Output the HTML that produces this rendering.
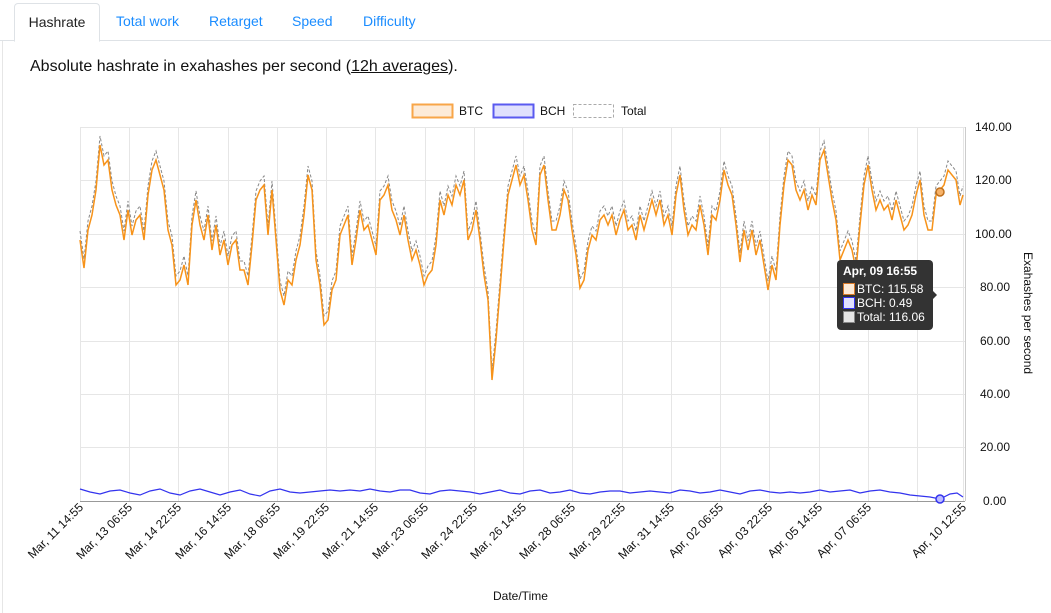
<!DOCTYPE html>
<html><head><style>
body{margin:0;width:1051px;height:613px;background:#fff;font-family:"Liberation Sans",Arial,sans-serif;overflow:hidden;position:relative}
.tabs{position:absolute;left:0;top:0;width:1051px;height:40px;border-bottom:1px solid #dee2e6}
.tab{position:absolute;top:13px;font-size:14px;color:#1a8cff}
.act{position:absolute;left:14px;top:3px;width:84px;height:37px;border:1px solid #dee2e6;border-bottom:1px solid #fff;border-radius:4px 4px 0 0;background:#fff;color:#222;font-size:14px;text-align:center;line-height:36px}
.lb{position:absolute;left:2px;top:41px;width:1px;height:572px;background:#e6e6e6}
h1{position:absolute;left:30px;top:58px;margin:0;font-weight:normal;font-size:16px;color:#111}
</style></head><body>
<div class="tabs"><div class="act">Hashrate</div>
<span class="tab" style="left:116px">Total work</span><span class="tab" style="left:209px">Retarget</span><span class="tab" style="left:292px">Speed</span><span class="tab" style="left:363px">Difficulty</span></div>
<div class="lb"></div>
<h1>Absolute hashrate in exahashes per second (<u>12h averages</u>).</h1>
<svg width="1051" height="613" style="position:absolute;left:0;top:0" font-family="Liberation Sans, Arial, sans-serif">
<g font-size="12" fill="#111">
<rect x="412.5" y="104.5" width="40" height="13" fill="#fdebd8" stroke="#f8a648" stroke-width="2"/><text x="459" y="115">BTC</text>
<rect x="493.5" y="104.5" width="40" height="13" fill="#e0e0fd" stroke="#5a5af0" stroke-width="2"/><text x="540" y="115">BCH</text>
<rect x="573.5" y="104.5" width="40" height="13" fill="#fff" stroke="#aaa" stroke-dasharray="3,2"/><text x="621" y="115">Total</text>
</g>
<g stroke="#e6e6e6" stroke-width="1">
<line x1="80" y1="127.5" x2="965" y2="127.5"/><line x1="80" y1="180.5" x2="965" y2="180.5"/><line x1="80" y1="234.5" x2="965" y2="234.5"/><line x1="80" y1="287.5" x2="965" y2="287.5"/><line x1="80" y1="341.5" x2="965" y2="341.5"/><line x1="80" y1="394.5" x2="965" y2="394.5"/><line x1="80" y1="447.5" x2="965" y2="447.5"/>
<line x1="80.5" y1="127" x2="80.5" y2="501"/><line x1="129.5" y1="127" x2="129.5" y2="501"/><line x1="178.5" y1="127" x2="178.5" y2="501"/><line x1="228.5" y1="127" x2="228.5" y2="501"/><line x1="277.5" y1="127" x2="277.5" y2="501"/><line x1="326.5" y1="127" x2="326.5" y2="501"/><line x1="375.5" y1="127" x2="375.5" y2="501"/><line x1="425.5" y1="127" x2="425.5" y2="501"/><line x1="474.5" y1="127" x2="474.5" y2="501"/><line x1="523.5" y1="127" x2="523.5" y2="501"/><line x1="572.5" y1="127" x2="572.5" y2="501"/><line x1="622.5" y1="127" x2="622.5" y2="501"/><line x1="671.5" y1="127" x2="671.5" y2="501"/><line x1="720.5" y1="127" x2="720.5" y2="501"/><line x1="769.5" y1="127" x2="769.5" y2="501"/><line x1="819.5" y1="127" x2="819.5" y2="501"/><line x1="868.5" y1="127" x2="868.5" y2="501"/><line x1="917.5" y1="127" x2="917.5" y2="501"/><line x1="963.5" y1="127" x2="963.5" y2="501"/>
</g>
<line x1="80" y1="501.5" x2="965" y2="501.5" stroke="#999"/>
<line x1="965.5" y1="127" x2="965.5" y2="501" stroke="#ccc"/>
<defs><polyline id="btc" fill="none" points="80,240 84,268 88,230 92,215 96,190 100,145 104,165 108,160 112,190 116,205 120,215 124,240 128,210 132,235 136,220 140,215 144,240 148,195 152,170 156,160 160,175 164,190 168,230 172,245 176,285 180,280 184,265 188,285 192,225 196,200 200,225 204,240 208,215 212,250 216,225 220,255 224,240 228,265 232,245 236,240 240,270 244,270 248,285 252,245 256,200 260,190 264,185 268,235 272,190 276,240 280,290 284,305 288,280 292,285 296,260 300,245 304,215 308,175 312,190 316,260 320,285 324,325 328,320 332,290 336,280 340,235 344,225 348,215 352,265 356,240 360,210 364,230 368,225 372,240 376,255 380,200 384,195 388,185 392,210 396,220 400,235 404,215 408,240 412,260 416,250 420,265 424,285 428,275 432,270 436,245 440,200 444,215 448,195 452,205 456,185 460,195 464,180 468,240 472,230 476,210 480,240 484,275 488,300 492,380 496,340 500,290 504,240 508,195 512,180 516,165 520,185 524,175 528,200 532,230 536,245 540,175 544,165 548,200 552,230 556,230 560,215 564,190 568,200 572,230 576,255 580,288 584,280 588,250 592,235 596,240 600,220 604,215 608,225 612,215 616,235 620,220 624,210 628,230 632,225 636,240 640,215 644,230 648,215 652,200 656,215 660,200 664,225 668,215 672,235 676,195 680,175 684,210 688,235 692,225 696,230 700,205 704,225 708,255 712,215 716,220 720,200 724,170 728,185 732,195 736,225 740,262 744,230 748,250 752,230 756,255 760,240 764,265 768,290 772,265 776,280 780,225 784,185 788,160 792,165 796,190 800,200 804,190 808,210 812,195 816,205 820,160 824,150 828,175 832,200 836,220 840,260 844,250 848,240 852,250 856,270 860,225 864,185 868,165 872,190 876,210 880,200 884,210 888,205 892,220 896,200 900,215 904,230 908,225 912,215 916,195 920,180 924,215 928,230 932,230 936,195 940,190 944,185 948,170 952,175 956,180 960,205 963,195"/></defs>
<use href="#btc" transform="translate(0,-9)" stroke="#888" stroke-dasharray="3,2" stroke-width="1"/>
<use href="#btc" stroke="#f7931a" stroke-width="1.5"/>
<polyline fill="none" stroke="#3333ee" stroke-width="1.2" points="80,489 90,492 100,494 110,491 120,490 130,493 140,495 150,491 160,489 170,493 180,495 190,491 200,489 210,492 220,495 230,492 240,490 250,494 260,496 270,491 280,489 290,492 300,493 310,492 320,491 330,490 340,491 350,490 360,491 370,489 380,491 390,492 400,490 410,490 420,493 430,494 440,491 450,490 460,491 470,492 480,494 490,492 500,490 510,493 520,494 530,491 540,490 550,493 560,492 570,490 580,493 590,494 600,492 610,491 620,491 630,493 640,492 650,491 660,492 670,493 680,490 690,491 700,493 710,492 720,490 730,492 740,494 750,491 760,490 770,492 780,493 790,492 800,493 810,492 820,490 830,492 840,491 850,490 860,493 870,491 880,490 890,492 900,493 910,495 920,496 930,497 940,499 950,494 957,493 963,497"/>
<circle cx="940" cy="192" r="4" fill="#f7b36a" stroke="#c0701c" stroke-width="1.5"/>
<circle cx="940" cy="499" r="4" fill="#bbbbff" stroke="#3333ee" stroke-width="1.5"/>
<g font-size="12" fill="#111">
<text x="975" y="131">140.00</text><text x="975" y="184">120.00</text><text x="975" y="238">100.00</text><text x="980" y="291">80.00</text><text x="980" y="345">60.00</text><text x="980" y="398">40.00</text><text x="980" y="451">20.00</text><text x="983" y="505">0.00</text>
<text transform="translate(1024,252) rotate(90)" font-size="12">Exahashes per second</text>
<text x="493" y="600">Date/Time</text>
</g>
<g font-size="12" fill="#111" text-anchor="end">
<text transform="translate(84,508) rotate(-45)">Mar, 11 14:55</text>
<text transform="translate(133,508) rotate(-45)">Mar, 13 06:55</text>
<text transform="translate(182,508) rotate(-45)">Mar, 14 22:55</text>
<text transform="translate(232,508) rotate(-45)">Mar, 16 14:55</text>
<text transform="translate(281,508) rotate(-45)">Mar, 18 06:55</text>
<text transform="translate(330,508) rotate(-45)">Mar, 19 22:55</text>
<text transform="translate(379,508) rotate(-45)">Mar, 21 14:55</text>
<text transform="translate(429,508) rotate(-45)">Mar, 23 06:55</text>
<text transform="translate(478,508) rotate(-45)">Mar, 24 22:55</text>
<text transform="translate(527,508) rotate(-45)">Mar, 26 14:55</text>
<text transform="translate(576,508) rotate(-45)">Mar, 28 06:55</text>
<text transform="translate(626,508) rotate(-45)">Mar, 29 22:55</text>
<text transform="translate(675,508) rotate(-45)">Mar, 31 14:55</text>
<text transform="translate(724,508) rotate(-45)">Apr, 02 06:55</text>
<text transform="translate(773,508) rotate(-45)">Apr, 03 22:55</text>
<text transform="translate(823,508) rotate(-45)">Apr, 05 14:55</text>
<text transform="translate(872,508) rotate(-45)">Apr, 07 06:55</text>
<text transform="translate(967,508) rotate(-45)">Apr, 10 12:55</text>
</g>
<rect x="837" y="260" width="96" height="70" rx="4" fill="#333"/>
<path d="M933,291 L937,295 L933,299 Z" fill="#333"/>
<g font-size="12" fill="#fff">
<text x="843" y="275" font-weight="bold">Apr, 09 16:55</text>
<rect x="843.5" y="283.5" width="11" height="11" fill="#fdebd8" stroke="#d87a2a"/><text x="857" y="293">BTC: 115.58</text>
<rect x="843.5" y="297.5" width="11" height="11" fill="#e0e0fd" stroke="#3333ee"/><text x="857" y="307">BCH: 0.49</text>
<rect x="843.5" y="311.5" width="11" height="11" fill="#e6e6e6" stroke="#888"/><text x="857" y="321">Total: 116.06</text>
</g>
</svg>
</body></html>
